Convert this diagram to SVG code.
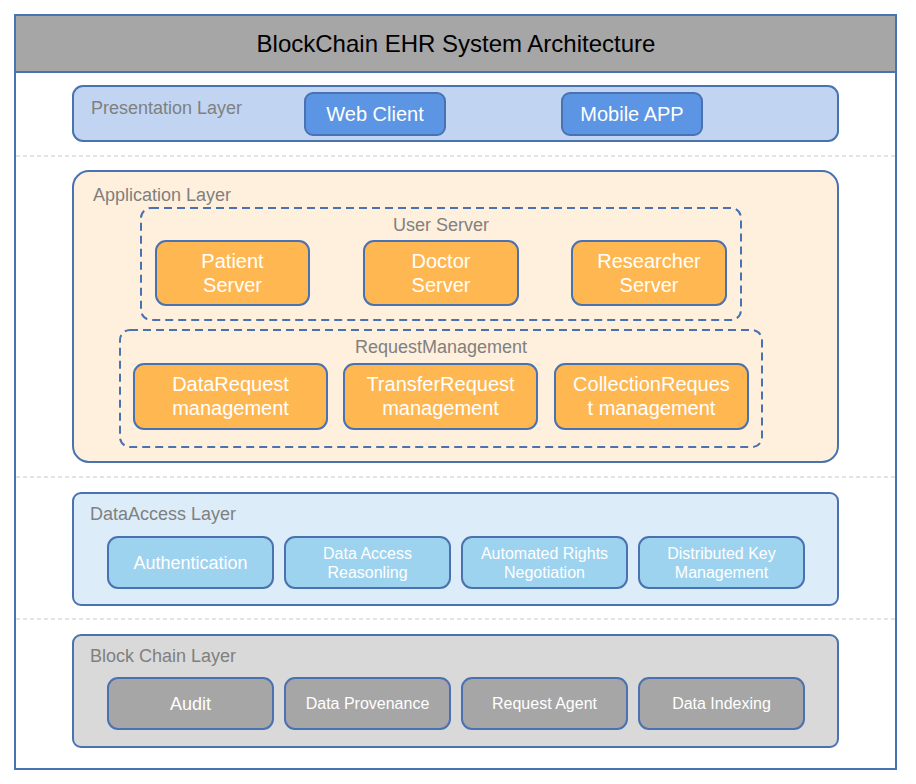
<svg xmlns="http://www.w3.org/2000/svg" width="916" height="784" viewBox="0 0 916 784">
<style>
text{font-family:"Liberation Sans",Arial,sans-serif}
.frame{fill:#fff;stroke:#4a72b0;stroke-width:2}
.sep{stroke:#c8c8c8;stroke-width:1;stroke-dasharray:4,3}
.layer{stroke:#4a72b0;stroke-width:2}
.node{stroke:#4a72b0;stroke-width:2}
.grp{fill:none;stroke:#4a72b0;stroke-width:2;stroke-dasharray:8,5}
.lbl{fill:#808080;font-size:18px}
.nt{fill:#fff;text-anchor:middle}
.pres{fill:#c1d5f3}.pnode{fill:#5b95e4}
.app{fill:#fff0dd}.anode{fill:#ffb752}
.da{fill:#dcedf9}.dnode{fill:#9dd3ef}
.bc{fill:#d9d9d9}.bnode{fill:#a6a6a6}
</style>
<g id="frame">
<rect class="frame" x="15" y="15" width="881" height="754"/>
<rect x="16" y="16" width="879" height="56" fill="#a6a6a6"/>
<line x1="15" y1="72" x2="896" y2="72" stroke="#4a72b0" stroke-width="2"/>
<text x="456" y="52" font-size="24" text-anchor="middle" fill="#000">BlockChain EHR System Architecture</text>
</g>
<g id="separators">
<line class="sep" x1="16" y1="156" x2="895" y2="156"/>
<line class="sep" x1="16" y1="477" x2="895" y2="477"/>
<line class="sep" x1="16" y1="619" x2="895" y2="619"/>
</g>
<g id="presentation-layer">
<rect class="layer pres" x="73" y="86" width="765" height="55" rx="10"/>
<text class="lbl" x="91" y="114">Presentation Layer</text>
</g>
<g id="web-client">
<rect class="node pnode" x="305" y="93" width="140" height="42" rx="8"/>
<text class="nt" x="375" y="121" font-size="20">Web Client</text>
</g>
<g id="mobile-app">
<rect class="node pnode" x="562" y="93" width="140" height="42" rx="8"/>
<text class="nt" x="632" y="121" font-size="20">Mobile APP</text>
</g>
<g id="application-layer">
<rect class="layer app" x="73" y="171" width="765" height="291" rx="16"/>
<text class="lbl" x="93" y="201">Application Layer</text>
</g>
<g id="user-server">
<rect class="grp" x="141" y="208" width="600" height="112" rx="10"/>
<text class="lbl" x="441" y="231" text-anchor="middle">User Server</text>
</g>
<g id="patient-server">
<rect class="node anode" x="156" y="241" width="153" height="64" rx="10"/>
<text class="nt" font-size="20"><tspan x="232.5" y="268">Patient</tspan><tspan x="232.5" y="292">Server</tspan></text>
</g>
<g id="doctor-server">
<rect class="node anode" x="364" y="241" width="154" height="64" rx="10"/>
<text class="nt" font-size="20"><tspan x="441" y="268">Doctor</tspan><tspan x="441" y="292">Server</tspan></text>
</g>
<g id="researcher-server">
<rect class="node anode" x="572" y="241" width="154" height="64" rx="10"/>
<text class="nt" font-size="20"><tspan x="649" y="268">Researcher</tspan><tspan x="649" y="292">Server</tspan></text>
</g>
<g id="request-management">
<rect class="grp" x="120" y="330" width="642" height="117" rx="10"/>
<text class="lbl" x="441" y="353" text-anchor="middle">RequestManagement</text>
</g>
<g id="datarequest">
<rect class="node anode" x="134" y="364" width="193" height="65" rx="10"/>
<text class="nt" font-size="20"><tspan x="230.5" y="391">DataRequest</tspan><tspan x="230.5" y="415">management</tspan></text>
</g>
<g id="transferrequest">
<rect class="node anode" x="344" y="364" width="193" height="65" rx="10"/>
<text class="nt" font-size="20"><tspan x="440.5" y="391">TransferRequest</tspan><tspan x="440.5" y="415">management</tspan></text>
</g>
<g id="collectionrequest">
<rect class="node anode" x="555" y="364" width="193" height="65" rx="10"/>
<text class="nt" font-size="20"><tspan x="651.5" y="391">CollectionReques</tspan><tspan x="651.5" y="415">t management</tspan></text>
</g>
<g id="dataaccess-layer">
<rect class="layer da" x="73" y="493" width="765" height="112" rx="8"/>
<text class="lbl" x="90" y="520">DataAccess Layer</text>
</g>
<g id="authentication">
<rect class="node dnode" x="108" y="537" width="165" height="51" rx="10"/>
<text class="nt" x="190.5" y="569" font-size="18">Authentication</text>
</g>
<g id="data-access-reasoning">
<rect class="node dnode" x="285" y="537" width="165" height="51" rx="10"/>
<text class="nt" font-size="16"><tspan x="367.5" y="559">Data Access</tspan><tspan x="367.5" y="578">Reasonling</tspan></text>
</g>
<g id="automated-rights">
<rect class="node dnode" x="462" y="537" width="165" height="51" rx="10"/>
<text class="nt" font-size="16"><tspan x="544.5" y="559">Automated Rights</tspan><tspan x="544.5" y="578">Negotiation</tspan></text>
</g>
<g id="distributed-key">
<rect class="node dnode" x="639" y="537" width="165" height="51" rx="10"/>
<text class="nt" font-size="16"><tspan x="721.5" y="559">Distributed Key</tspan><tspan x="721.5" y="578">Management</tspan></text>
</g>
<g id="blockchain-layer">
<rect class="layer bc" x="73" y="635" width="765" height="112" rx="8"/>
<text class="lbl" x="90" y="662">Block Chain Layer</text>
</g>
<g id="audit">
<rect class="node bnode" x="108" y="678" width="165" height="51" rx="10"/>
<text class="nt" x="190.5" y="710" font-size="18">Audit</text>
</g>
<g id="data-provenance">
<rect class="node bnode" x="285" y="678" width="165" height="51" rx="10"/>
<text class="nt" x="367.5" y="709" font-size="16">Data Provenance</text>
</g>
<g id="request-agent">
<rect class="node bnode" x="462" y="678" width="165" height="51" rx="10"/>
<text class="nt" x="544.5" y="709" font-size="16">Request Agent</text>
</g>
<g id="data-indexing">
<rect class="node bnode" x="639" y="678" width="165" height="51" rx="10"/>
<text class="nt" x="721.5" y="709" font-size="16">Data Indexing</text>
</g>
<g id="connectors"></g>
</svg>
